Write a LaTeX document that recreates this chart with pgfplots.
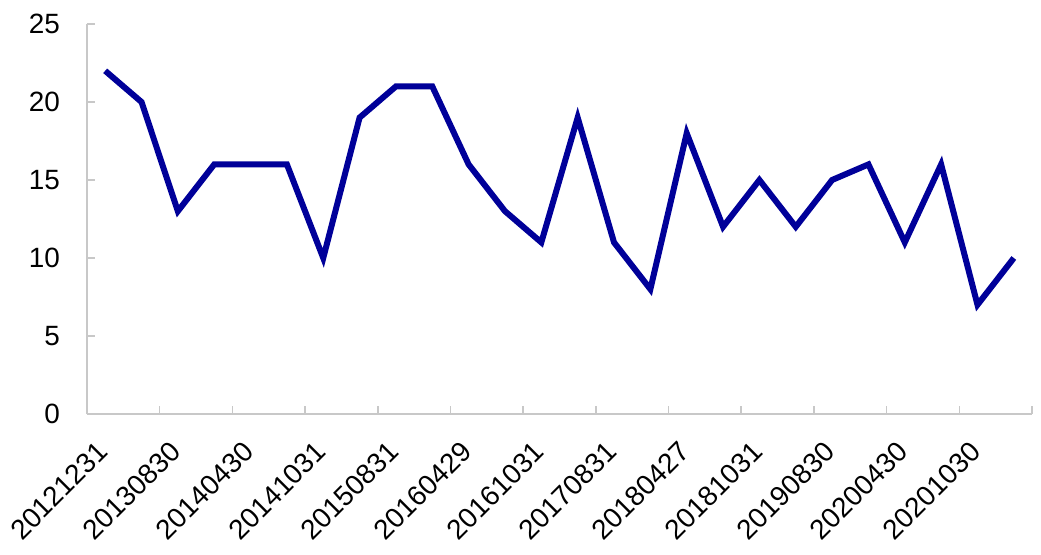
\documentclass[border=0pt]{standalone}
\usepackage{fontspec}
\setmainfont{Liberation Sans}
\usepackage{pgfplots}
\pgfplotsset{compat=1.18}
\definecolor{lineblue}{RGB}{0,0,153}
\definecolor{axgray}{RGB}{200,200,200}
\newcommand{\lab}{\fontsize{28}{32}\selectfont}
\begin{document}
\begin{tikzpicture}
\begin{axis}[name=ax, scale only axis, width=945bp, height=390bp,
  xmin=-0.5, xmax=25.5, ymin=0, ymax=25,
  axis lines*=left,
  axis line style={axgray, line width=1.5bp},
  tick style={axgray, line width=1.5bp},
  tick align=inside, major tick length=8bp,
  /pgf/number format/assume math mode=true,
  ytick={0,5,...,25},
  yticklabel style={font=\lab, inner sep=0pt, xshift=-27bp},
  xtick={-0.5,1.5,...,25.5}, xticklabels={},
  extra x ticks={0,2,...,24},
  extra x tick labels={20121231,20130830,20140430,20141031,20150831,20160429,20161031,20170831,20180427,20181031,20190830,20200430,20201030},
  extra x tick style={major tick length=0pt},
  xticklabel style={font=\lab, inner sep=0pt, xshift=-2bp, yshift=-33bp, rotate=45, anchor=east},
  clip=false,
]
\addplot[lineblue, line width=6bp, mark=none] coordinates {
(0,22)(1,20)(2,13)(3,16)(4,16)(5,16)(6,10)(7,19)(8,21)(9,21)(10,16)(11,13)(12,11)
(13,19)(14,11)(15,8)(16,18)(17,12)(18,15)(19,12)(20,15)(21,16)(22,11)(23,16)(24,7)(25,10)};
\end{axis}
\pgfresetboundingbox
\path ([shift={(-87bp,-141bp)}]ax.south west) rectangle ([shift={(9bp,24bp)}]ax.north east);
\end{tikzpicture}
\end{document}
